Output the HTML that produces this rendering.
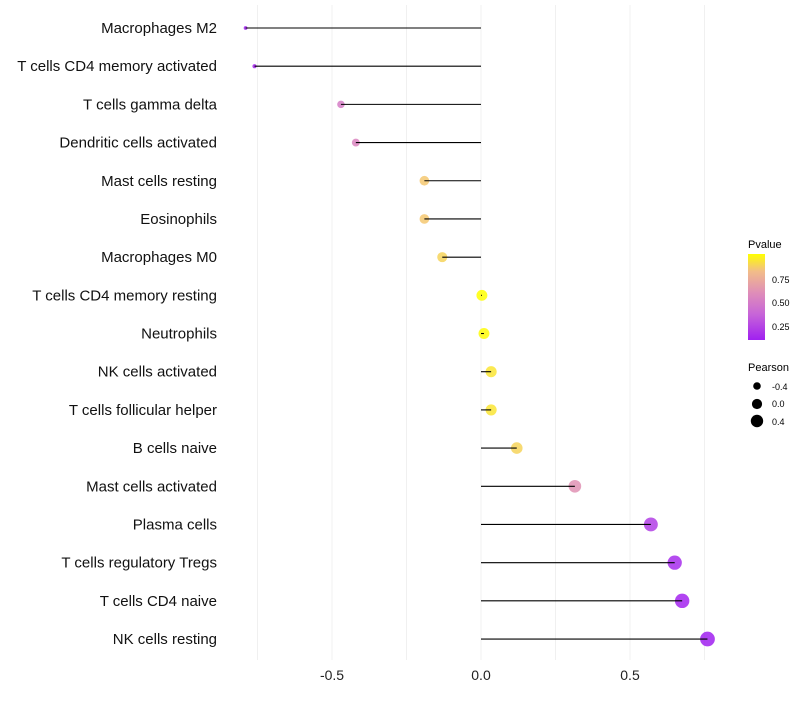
<!DOCTYPE html>
<html><head><meta charset="utf-8"><style>
body{margin:0;background:#fff;font-family:"Liberation Sans",sans-serif}
</style></head><body>
<svg id="chart" width="800" height="700" xmlns="http://www.w3.org/2000/svg">
<defs><linearGradient id="pg" x1="0" y1="1" x2="0" y2="0">
<stop offset="0" stop-color="#a020f0"/><stop offset="0.3" stop-color="#c765d8"/><stop offset="0.55" stop-color="#df8eb8"/><stop offset="0.8" stop-color="#f2bd88"/><stop offset="1" stop-color="#ffff00"/></linearGradient></defs>
<g id="grid"></g><g id="marks"></g><g id="labels"></g>
<g font-size="10">
<text x="748" y="248" font-size="11">Pvalue</text>
<rect x="748" y="254" width="17" height="86" fill="url(#pg)"/>
<text x="772" y="283" font-size="9">0.75</text>
<text x="772" y="306" font-size="9">0.50</text>
<text x="772" y="330" font-size="9">0.25</text>
<text x="748" y="371" font-size="11">Pearson</text>
<circle cx="757" cy="386" r="3.8"/>
<circle cx="757" cy="404" r="5.1"/>
<circle cx="757" cy="421" r="6.2"/>
<text x="772" y="390" font-size="9">-0.4</text>
<text x="772" y="407" font-size="9">0.0</text>
<text x="772" y="425" font-size="9">0.4</text>
</g>
</svg>
<script>
const categories=["Macrophages M2","T cells CD4 memory activated","T cells gamma delta","Dendritic cells activated","Mast cells resting","Eosinophils","Macrophages M0","T cells CD4 memory resting","Neutrophils","NK cells activated","T cells follicular helper","B cells naive","Mast cells activated","Plasma cells","T cells regulatory  Tregs","T cells CD4 naive","NK cells resting"];
const pearson=[-0.79,-0.76,-0.47,-0.42,-0.19,-0.19,-0.13,0.003,0.01,0.034,0.034,0.12,0.315,0.57,0.65,0.675,0.76];
const pvalue=[0.1,0.12,0.5,0.55,0.85,0.85,0.88,1.0,0.99,0.93,0.93,0.88,0.62,0.22,0.15,0.12,0.1];
const xTicks=[-0.5,0,0.5];
const xTickLabels=["-0.5","0.0","0.5"];
const ns="http://www.w3.org/2000/svg";
const x=v=>481+v*298;
const y=i=>28+i*38.19;
const rad=v=>Math.sqrt(3.5+(v+0.79)*33);
const stops=[[0.1,[160,32,240]],[0.37,[199,101,216]],[0.6,[223,142,184]],[0.82,[242,189,136]],[1.0,[255,255,0]]];
function col(p){p=Math.max(0.1,Math.min(1,p));for(let k=0;k<stops.length-1;k++){const [a,ca]=stops[k],[b,cb]=stops[k+1];if(p<=b){const t=(p-a)/(b-a);return "rgb("+ca.map((c,j)=>Math.round(c+(cb[j]-c)*t)).join(",")+")";}}return "rgb(255,255,0)";}
function mk(t,at,par){const e=document.createElementNS(ns,t);for(const k in at)e.setAttribute(k,at[k]);document.getElementById(par).appendChild(e);return e;}
[-0.75,-0.5,-0.25,0,0.25,0.5,0.75].forEach(v=>{
const g=mk("line",{x1:x(v),x2:x(v),y1:5,y2:660,stroke:"#f0f0f0","stroke-width":1},"grid");


});
xTicks.forEach((v,i)=>{
const t=mk("text",{x:x(v),y:680,"text-anchor":"middle","font-size":14,fill:"#222"},"labels");t.textContent=xTickLabels[i];


});
categories.forEach((c,i)=>{
const t=mk("text",{x:217,y:y(i)+5,"text-anchor":"end","font-size":15,fill:"#111"},"labels");t.textContent=c;


const p=mk("circle",{cx:x(pearson[i]),cy:y(i),r:rad(pearson[i]),fill:col(pvalue[i]),"fill-opacity":0.85},"marks");


const l=mk("line",{x1:x(0),x2:x(pearson[i]),y1:y(i),y2:y(i),stroke:"#000","stroke-width":1.1},"marks");


});
</script>
</body></html>
